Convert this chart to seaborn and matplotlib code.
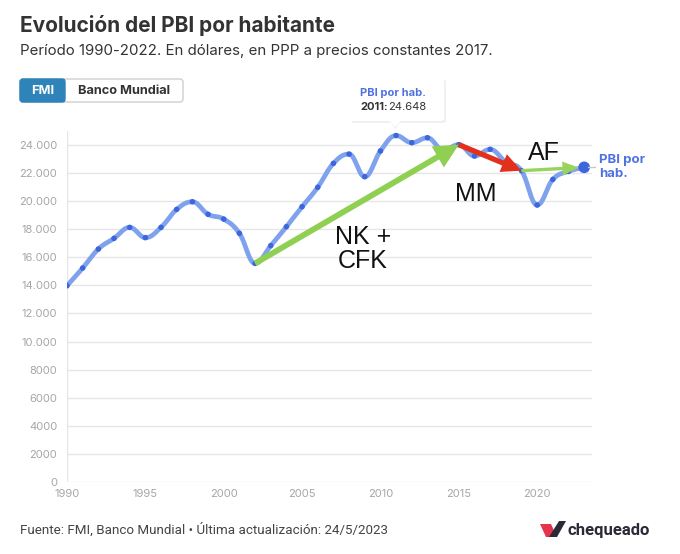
import numpy as np
import pandas as pd
import matplotlib
matplotlib.use("Agg")
import matplotlib.pyplot as plt
import seaborn as sns
from matplotlib.patches import FancyBboxPatch, Polygon, Rectangle

# ---------------- data ----------------
years = list(range(1990, 2024))
pbi = [13973, 15230, 16580, 17340, 18120, 17390, 18120, 19400, 19940, 19050,
       18710, 17700, 15560, 16820, 18170, 19590, 20970, 22670, 23330, 21720,
       23550, 24648, 24140, 24490, 23620, 24000, 23190, 23670, 22760, 22150,
       19710, 21530, 22100, 22390]
yticks = [0, 2000, 4000, 6000, 8000, 10000, 12000, 14000, 16000, 18000, 20000, 22000, 24000]
xticks = [1990, 1995, 2000, 2005, 2010, 2015, 2020]
arrow_periods = [("NK +\nCFK", 2002, 2015), ("MM", 2015, 2019), ("AF", 2019, 2023)]

df = pd.DataFrame({"year": years, "pbi": pbi})


# Highcharts-like spline (display smoothing of the series)
def spline(xs, ys, n=20):
    xs = np.asarray(xs, float); ys = np.asarray(ys, float)
    m = len(xs)
    lc = [(xs[i], ys[i]) for i in range(m)]
    rc = [(xs[i], ys[i]) for i in range(m)]
    s, d = 1.5, 2.5
    for i in range(1, m - 1):
        px, py = xs[i], ys[i]
        lx, ly = xs[i - 1], ys[i - 1]
        nx, ny = xs[i + 1], ys[i + 1]
        lcx = (s * px + lx) / d; lcy = (s * py + ly) / d
        rcx = (s * px + nx) / d; rcy = (s * py + ny) / d
        corr = ((rcy - lcy) * (rcx - px)) / (rcx - lcx) + py - rcy
        lcy += corr; rcy += corr
        if lcy > ly and lcy > py:
            lcy = max(ly, py); rcy = 2 * py - lcy
        elif lcy < ly and lcy < py:
            lcy = min(ly, py); rcy = 2 * py - lcy
        if rcy > ny and rcy > py:
            rcy = max(ny, py); lcy = 2 * py - rcy
        elif rcy < ny and rcy < py:
            rcy = min(ny, py); lcy = 2 * py - rcy
        lc[i] = (lcx, lcy); rc[i] = (rcx, rcy)
    outx, outy = [], []
    t = np.linspace(0, 1, n)
    for i in range(m - 1):
        p0 = np.array([xs[i], ys[i]]); p1 = np.array(rc[i])
        p2 = np.array(lc[i + 1]); p3 = np.array([xs[i + 1], ys[i + 1]])
        b = ((1 - t) ** 3)[:, None] * p0 + (3 * (1 - t) ** 2 * t)[:, None] * p1 + \
            (3 * (1 - t) * t ** 2)[:, None] * p2 + (t ** 3)[:, None] * p3
        outx.extend(b[:, 0]); outy.extend(b[:, 1])
    return np.array(outx), np.array(outy)


sx, sy = spline(df["year"], df["pbi"])
smooth = pd.DataFrame({"x": sx, "y": sy})

# ---------------- style ----------------
sns.set_theme(style="white")
plt.rcParams["font.family"] = ["Inter", "DejaVu Sans"]

W, H = 680, 554
fig = plt.figure(figsize=(W / 100, H / 100), dpi=100)
fig.patch.set_facecolor("white")

ax_left, ax_right, ax_bottom, ax_top = 67, 592, 482.3, 130.6
ax = fig.add_axes([ax_left / W, 1 - ax_bottom / H, (ax_right - ax_left) / W, (ax_bottom - ax_top) / H])
ax.set_xlim(1990, 2023.5)
ax.set_ylim(0, 25000)

for yv in yticks:
    ax.axhline(yv, color="#e6e6e6", lw=1, zorder=0)
ax.axvline(1990, color="#e6e6e6", lw=1, zorder=0)

line_col = "#7fa2ec"
dot_col = "#3d66dd"
sns.lineplot(data=smooth, x="x", y="y", sort=False, estimator=None, ax=ax,
             color=line_col, lw=3.4, zorder=2)
sns.scatterplot(data=df.iloc[:-1], x="year", y="pbi", ax=ax, color=dot_col,
                s=16, edgecolor="none", zorder=3)
sns.scatterplot(data=df.iloc[-1:], x="year", y="pbi", ax=ax, color=dot_col,
                s=70, edgecolor="none", zorder=3)

for s in ax.spines.values():
    s.set_visible(False)
ax.set_xticks(xticks)
ax.set_yticks(yticks)
ax.set_yticklabels([f"{v:,}".replace(",", ".") if v >= 10000 else str(v) for v in yticks])
ax.tick_params(axis="both", length=0, labelsize=8, colors="#a6a6a6")
ax.tick_params(axis="y", pad=7)
ax.tick_params(axis="x", pad=5)
ax.set_xlabel(""); ax.set_ylabel("")

# arrows for periods
val = dict(zip(years, pbi))
styles = {
    "NK +\nCFK": dict(color="#8fd052", style="simple,head_length=1.75,head_width=1.75,tail_width=0.42", ms=10),
    "MM": dict(color="#e2301c", style="simple,head_length=1.5,head_width=1.45,tail_width=0.4", ms=9.5),
    "AF": dict(color="#98d35e", style="simple,head_length=1.45,head_width=1.25,tail_width=0.3", ms=8),
}
for lab, a, b in arrow_periods:
    st = styles[lab]
    ax.annotate("", xy=(b, val[b]), xytext=(a, val[a]),
                arrowprops=dict(arrowstyle=st["style"], color=st["color"],
                                mutation_scale=st["ms"], shrinkA=0,
                                shrinkB=4 if lab == "AF" else 0, lw=0),
                zorder=4)

# ---------------- overlay in pixel coordinates ----------------
ov = fig.add_axes([0, 0, 1, 1], zorder=10)
ov.set_xlim(0, W); ov.set_ylim(H, 0); ov.axis("off"); ov.patch.set_alpha(0)

lbl_font = ["Liberation Sans", "DejaVu Sans"]
ov.text(363, 249, "NK +\nCFK", ha="center", va="center", fontsize=18, family=lbl_font,
        color="#111111", linespacing=1.05)
ov.text(476, 194, "MM", ha="center", va="center", fontsize=18, family=lbl_font, color="#111111")
ov.text(544, 153, "AF", ha="center", va="center", fontsize=18, family=lbl_font, color="#111111")

# end label
ov.plot([588, 595], [167, 167], color="#c8c8c8", lw=1)
ov.text(599, 167, "PBI por\nhab.", ha="left", va="center", fontsize=9.5, fontweight="bold",
        color="#4f72e3", linespacing=1.15)

# title / subtitle
ov.text(20, 25, "Evolución del PBI por habitante", ha="left", va="center",
        fontsize=15, fontweight="bold", color="#333333")
ov.text(20, 51, "Período 1990-2022. En dólares, en PPP a precios constantes 2017.",
        ha="left", va="center", fontsize=10.8, color="#333333")

# buttons
ov.add_patch(FancyBboxPatch((20, 79), 163, 23, boxstyle="round,pad=0,rounding_size=3",
                            fc="white", ec="#cfcfcf", lw=1))
ov.add_patch(FancyBboxPatch((20, 79), 45, 23, boxstyle="round,pad=0,rounding_size=3",
                            fc="#2e84b8", ec="#2e84b8", lw=1))
ov.add_patch(Rectangle((60, 79), 5, 23, fc="#2e84b8", ec="none"))
ov.text(42.5, 90.5, "FMI", ha="center", va="center", fontsize=9.2, fontweight="bold", color="white")
ov.text(124, 90.5, "Banco Mundial", ha="center", va="center", fontsize=9.2, fontweight="bold",
        color="#333333")

# tooltip
ov.add_patch(FancyBboxPatch((351, 79), 95, 44, boxstyle="round,pad=0,rounding_size=3",
                            fc="#000000", ec="none", alpha=0.06))
ov.add_patch(Polygon([(389, 121), (401, 121), (395.5, 129)], closed=True, fc="#000000",
                     ec="none", alpha=0.06))
ov.add_patch(FancyBboxPatch((349, 77), 95, 44, boxstyle="round,pad=0,rounding_size=3",
                            fc="white", ec="none"))
ov.add_patch(Polygon([(388, 120), (402, 120), (395, 127)], closed=True, fc="white", ec="none"))
ov.text(360, 93, "PBI por hab.", ha="left", va="center", fontsize=8, fontweight="bold",
        color="#4f72e3")
ov.text(360, 107, "2011:", ha="left", va="center", fontsize=8, fontweight="bold", color="#333333")
ov.text(388.5, 107, "24.648", ha="left", va="center", fontsize=8, color="#333333")

# footer
ov.text(20, 530, "Fuente: FMI, Banco Mundial • Última actualización: 24/5/2023", ha="left",
        va="center", fontsize=9.6, color="#444444", family=["Roboto", "DejaVu Sans"])
ov.add_patch(Polygon([(540, 524), (551, 524), (557, 537), (546, 537)], closed=True,
                     fc="#e5334b", ec="none"))
ov.add_patch(Polygon([(549, 537), (557, 537), (566, 521), (559, 521)], closed=True,
                     fc="#2b2b38", ec="none"))
ov.text(567, 530, "chequeado", ha="left", va="center", fontsize=12, fontweight="bold",
        color="#2b2b38", family=["Roboto", "DejaVu Sans"])

fig.savefig("out.png", dpi=100)
